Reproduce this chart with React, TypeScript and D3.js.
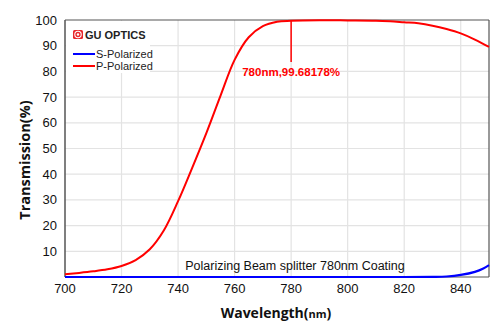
import React from "react";
import * as d3 from "d3";

const wavelengthsP = [700, 705, 710, 715, 720, 725, 730, 735, 740, 745, 750, 755, 760, 765, 770, 775, 780, 790, 800, 810, 815, 820, 825, 830, 835, 840, 845, 850];
const pPolarized = [1.1, 1.6, 2.2, 3.0, 4.3, 6.6, 10.8, 18.2, 29.5, 42.5, 56, 70.5, 84.5, 93.3, 97.6, 99.3, 99.68, 99.9, 99.85, 99.75, 99.5, 99.1, 98.7, 97.8, 96.5, 94.8, 92.4, 89.5];
const wavelengthsS = [700, 720, 740, 760, 780, 800, 820, 830, 835, 840, 845, 848, 850];
const sPolarized = [0, 0, 0, 0, 0, 0, 0, 0.05, 0.2, 0.8, 2.0, 3.3, 4.6];
const xTicks = [700, 720, 740, 760, 780, 800, 820, 840];
const yTicks = [10, 20, 30, 40, 50, 60, 70, 80, 90, 100];
const gridX = [720, 740, 760, 780, 800, 820, 840];
const gridY = [10, 20, 30, 40, 50, 60, 70, 80, 90];

const W = 500, H = 334;
const L = 65, R = 489, T = 20, B = 277;

export default function App() {
  const x = d3.scaleLinear().domain([700, 850]).range([L, R]);
  const y = d3.scaleLinear().domain([0, 100]).range([B, T]);
  const line = d3.line<[number, number]>().x(d => x(d[0])).y(d => y(d[1])).curve(d3.curveCatmullRom.alpha(0.5));
  const pData = wavelengthsP.map((w, i) => [w, pPolarized[i]] as [number, number]);
  const sData = wavelengthsS.map((w, i) => [w, sPolarized[i]] as [number, number]);
  const font = "Liberation Sans, Arial, sans-serif";
  return (
    <svg width={W} height={H} style={{ position: "absolute", left: 0, top: 0, background: "#fff" }} fontFamily={font}>
      <rect x={0} y={0} width={W} height={H} fill="#fff" />
      {gridX.map(v => (
        <line key={"gx" + v} x1={x(v)} x2={x(v)} y1={T} y2={B} stroke="#e3e3e3" strokeWidth={1.2} />
      ))}
      {gridY.map(v => (
        <line key={"gy" + v} x1={L} x2={R} y1={y(v)} y2={y(v)} stroke="#e3e3e3" strokeWidth={1.2} />
      ))}
      {/* legend background */}
      <rect x={L + 1} y={T + 1} width={84} height={52} fill="#fff" />
      {/* frame */}
      <line x1={L} x2={R} y1={T} y2={T} stroke="#555" strokeWidth={1.2} />
      <line x1={R} x2={R} y1={T} y2={B} stroke="#555" strokeWidth={1.2} />
      <line x1={L} x2={L} y1={T} y2={B} stroke="#555" strokeWidth={1.5} />
      <line x1={L} x2={R} y1={B} y2={B} stroke="#555" strokeWidth={1.2} />
      {/* ticks */}
      {yTicks.map(v => (
        <text key={"yt" + v} x={57} y={y(v)} dy="0.35em" textAnchor="end" fontSize={13} fill="#111">{v}</text>
      ))}
      {xTicks.map(v => (
        <text key={"xt" + v} x={x(v)} y={293} textAnchor="middle" fontSize={13} fill="#111">{v}</text>
      ))}
      {/* curves */}
      <path d={line(pData) || ""} fill="none" stroke="#ff0000" strokeWidth={2} />
      <path d={line(sData) || ""} fill="none" stroke="#0000ff" strokeWidth={2.2} />
      {/* annotation */}
      <line x1={x(780)} x2={x(780)} y1={y(99.68)} y2={62} stroke="#ff0000" strokeWidth={1.5} />
      <text x={x(780)} y={76} textAnchor="middle" fontSize={11.5} fontWeight="bold" fill="#ff0000">780nm,99.68178%</text>
      {/* legend */}
      <rect x={73} y={30} width={10} height={9} rx={1.5} fill="#e8262a" />
      <circle cx={78} cy={34.5} r={3.2} fill="none" stroke="#fff" strokeWidth={1.1} />
      <circle cx={78} cy={34.5} r={1.2} fill="#fff" />
      <text x={85} y={38.5} fontSize={11} fontWeight="bold" fill="#222">GU OPTICS</text>
      <line x1={73} x2={95} y1={54} y2={54} stroke="#0000ff" strokeWidth={2} />
      <text x={96} y={58} fontSize={11} fill="#222">S-Polarized</text>
      <line x1={73} x2={95} y1={66} y2={66} stroke="#ff0000" strokeWidth={2} />
      <text x={96} y={70} fontSize={11} fill="#222">P-Polarized</text>
      {/* inner title */}
      <text x={295} y={270} textAnchor="middle" fontSize={12.5} fill="#111">Polarizing Beam splitter 780nm Coating</text>
      {/* axis titles */}
      <text x={276} y={318} textAnchor="middle" fontSize={14} fontWeight="bold" fill="#111" fontFamily="Open Sans, sans-serif">
        Wavelength(<tspan fontSize={11}>nm</tspan>)
      </text>
      <text transform={`translate(30,160) rotate(-90)`} textAnchor="middle" fontSize={14.5} fontWeight="bold" fill="#111" fontFamily="Open Sans, sans-serif">
        Transmission(%)
      </text>
    </svg>
  );
}
